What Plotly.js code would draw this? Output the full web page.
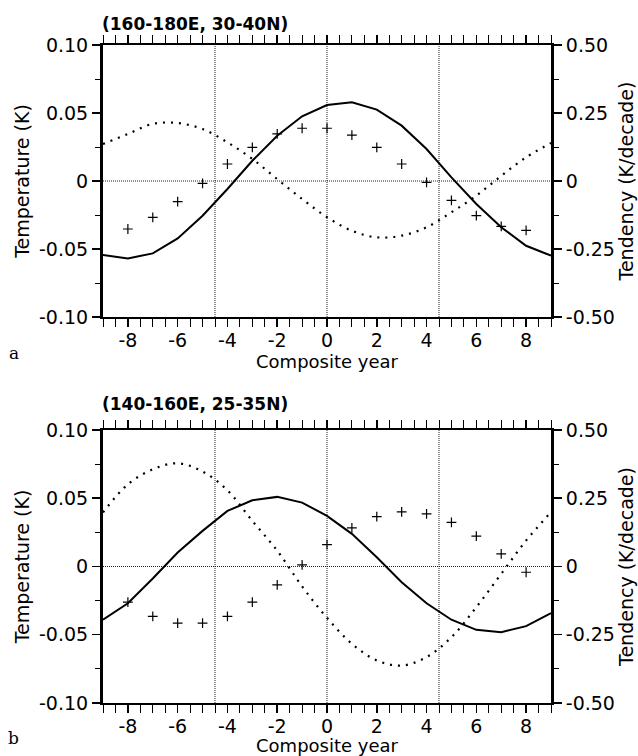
<!DOCTYPE html>
<html>
<head>
<meta charset="utf-8">
<script src="https://cdn.plot.ly/plotly-3.0.1.min.js"></script>
<style>html,body{margin:0;padding:0;background:#fff;}#chart{width:638px;height:756px;}</style>
</head>
<body>
<div id="chart"></div>
<script>
// ---- data ----
const yearsLine = [-9,-8,-7,-6,-5,-4,-3,-2,-1,0,1,2,3,4,5,6,7,8,9];
const yearsCross = [-8,-7,-6,-5,-4,-3,-2,-1,0,1,2,3,4,5,6,7,8];

// Panel a (160-180E, 30-40N)
const solidA = [-0.0544,-0.0569,-0.0532,-0.0422,-0.0255,-0.0059,0.0149,0.0333,0.0476,0.0559,0.0579,0.0525,0.0407,0.0235,0.0027,-0.0169,-0.034,-0.0476,-0.0549];
const crossA = [-0.0353,-0.0267,-0.0152,-0.0017,0.0125,0.0248,0.0346,0.0388,0.0388,0.0338,0.0248,0.0125,-0.001,-0.0142,-0.0255,-0.0333,-0.0363];
const dotA = [0.136,0.173,0.21,0.213,0.191,0.142,0.081,0.007,-0.066,-0.133,-0.183,-0.207,-0.201,-0.17,-0.115,-0.054,0.019,0.087,0.14];

// Panel b (140-160E, 25-35N)
const solidB = [-0.039,-0.0269,-0.0088,0.0102,0.0261,0.0407,0.0485,0.051,0.0468,0.0371,0.0239,0.0068,-0.0115,-0.0269,-0.039,-0.0464,-0.0481,-0.0437,-0.0342];
const crossB = [-0.0261,-0.0366,-0.0415,-0.0415,-0.0366,-0.0261,-0.0134,0.0012,0.0161,0.0283,0.0366,0.04,0.0386,0.0324,0.0222,0.0093,-0.0042];
const dotB = [0.198,0.301,0.356,0.378,0.348,0.279,0.167,0.058,-0.073,-0.188,-0.283,-0.344,-0.363,-0.332,-0.259,-0.149,-0.027,0.095,0.199];

// tick labels
const xTickVals = [-8,-6,-4,-2,0,2,4,6,8];
const xTickText = ['-8','-6','-4','-2','0','2','4','6','8'];
const tTickVals = [0.10,0.05,0,-0.05,-0.10];
const tTickText = ['0.10','0.05','0','-0.05','-0.10'];
const rTickVals = [0.50,0.25,0,-0.25,-0.50];
const rTickText = ['0.50','0.25','0','-0.25','-0.50'];
const refYears = [-4.5, 0, 4.5];

const panelTitles = ['(160-180E, 30-40N)', '(140-160E, 25-35N)'];

// ---- styles ----
const FONT = 'DejaVu Sans, Liberation Sans, Arial, sans-serif';
const black = '#000';

function solidTrace(y, xa, ya) {
  return {x: yearsLine, y: y, xaxis: xa, yaxis: ya, type: 'scatter', mode: 'lines',
    line: {color: black, width: 2}, hoverinfo: 'skip', showlegend: false};
}
function dotTrace(y, xa, ya) {
  return {x: yearsLine, y: y, xaxis: xa, yaxis: ya, type: 'scatter', mode: 'lines',
    line: {color: black, width: 2.2, dash: '2px,6px', shape: 'spline', smoothing: 1}, hoverinfo: 'skip', showlegend: false};
}
function crossTrace(y, xa, ya) {
  return {x: yearsCross, y: y, xaxis: xa, yaxis: ya, type: 'scatter', mode: 'markers',
    marker: {symbol: 'cross-thin', size: 7, color: black, line: {color: black, width: 1.2}}, hoverinfo: 'skip', showlegend: false};
}

const data = [
  dotTrace(dotA, 'x', 'y2'),
  solidTrace(solidA, 'x', 'y'),
  crossTrace(crossA, 'x', 'y'),
  dotTrace(dotB, 'x2', 'y4'),
  solidTrace(solidB, 'x2', 'y3'),
  crossTrace(crossB, 'x2', 'y3')
];

const tickFont = {family: FONT, size: 19, color: black};
const titleFont = {family: FONT, size: 19, color: black};

function xAxis(anchor) {
  return {
    anchor: anchor, domain: [0, 1], range: [-9, 9],
    tickmode: 'array', tickvals: xTickVals, ticktext: xTickText,
    ticks: 'outside', ticklen: 8, tickwidth: 1.5, tickcolor: black,
    ticklabelstandoff: -3,
    minor: {tickmode: 'linear', tick0: -9, dtick: 0.5, ticks: 'outside', ticklen: 4, tickwidth: 1, tickcolor: black, showgrid: false},
    showline: true, linewidth: 2, linecolor: black, mirror: 'allticks',
    showgrid: false, zeroline: false, tickfont: tickFont,
    title: {text: 'Composite year', font: {family: FONT, size: 18, color: black}, standoff: 2},
    fixedrange: true
  };
}
function yLeft(domain, anchor) {
  return {
    anchor: anchor, domain: domain, range: [-0.1, 0.1],
    tickmode: 'array', tickvals: tTickVals, ticktext: tTickText,
    ticks: 'outside', ticklen: 8, tickwidth: 1.5, tickcolor: black,
    minor: {tickmode: 'linear', tick0: 0, dtick: 0.025, ticks: 'outside', ticklen: 5, tickwidth: 1, tickcolor: black, showgrid: false},
    showline: true, linewidth: 3, linecolor: black, mirror: false,
    showgrid: false, zeroline: false, tickfont: tickFont,
    title: {text: 'Temperature (K)', font: titleFont, standoff: 5},
    fixedrange: true
  };
}
function yRight(over, anchor) {
  return {
    anchor: anchor, overlaying: over, side: 'right', range: [-0.5, 0.5],
    tickmode: 'array', tickvals: rTickVals, ticktext: rTickText,
    ticks: 'outside', ticklen: 8, tickwidth: 1.5, tickcolor: black,
    minor: {tickmode: 'linear', tick0: 0, dtick: 0.125, ticks: 'outside', ticklen: 5, tickwidth: 1, tickcolor: black, showgrid: false},
    showline: true, linewidth: 3, linecolor: black,
    showgrid: false, zeroline: false, tickfont: tickFont,
    title: {text: 'Tendency (K/decade)', font: titleFont, standoff: 5},
    fixedrange: true
  };
}

const shapes = [];
[['x', 'y'], ['x2', 'y3']].forEach(function (p) {
  refYears.forEach(function (v) {
    shapes.push({type: 'line', xref: p[0], yref: p[1] + ' domain', x0: v, x1: v, y0: 0, y1: 1,
      line: {color: '#222', width: 1, dash: '1px,1px'}, layer: 'below'});
  });
  shapes.push({type: 'line', xref: p[0] + ' domain', yref: p[1], x0: 0, x1: 1, y0: 0, y1: 0,
    line: {color: '#222', width: 1, dash: '1px,1px'}, layer: 'below'});
});

const annotations = [
  {text: '<b>' + panelTitles[0] + '</b>', xref: 'paper', yref: 'paper', x: -0.007, y: 1.032, xanchor: 'left', yanchor: 'middle', showarrow: false, font: {family: FONT, size: 17, color: black}},
  {text: '<b>' + panelTitles[1] + '</b>', xref: 'paper', yref: 'paper', x: -0.007, y: 0.4544, xanchor: 'left', yanchor: 'middle', showarrow: false, font: {family: FONT, size: 17, color: black}},
  {text: 'a', xref: 'paper', yref: 'paper', x: -0.199, y: 0.532, xanchor: 'center', yanchor: 'middle', showarrow: false, font: {family: 'DejaVu Serif, Liberation Serif, serif', size: 17, color: black}},
  {text: 'b', xref: 'paper', yref: 'paper', x: -0.199, y: -0.053, xanchor: 'center', yanchor: 'middle', showarrow: false, font: {family: 'DejaVu Serif, Liberation Serif, serif', size: 17, color: black}}
];

const layout = {
  width: 638, height: 756,
  margin: {l: 103, r: 87, t: 45, b: 53, autoexpand: false},
  paper_bgcolor: '#fff', plot_bgcolor: '#fff',
  font: {family: FONT, color: black},
  showlegend: false,
  xaxis: xAxis('y'),
  yaxis: yLeft([0.5866, 1], 'x'),
  yaxis2: yRight('y', 'x'),
  xaxis2: xAxis('y3'),
  yaxis3: yLeft([0, 0.4149], 'x2'),
  yaxis4: yRight('y3', 'x2'),
  shapes: shapes,
  annotations: annotations
};

Plotly.newPlot('chart', data, layout, {displayModeBar: false, staticPlot: true});
</script>
</body>
</html>
